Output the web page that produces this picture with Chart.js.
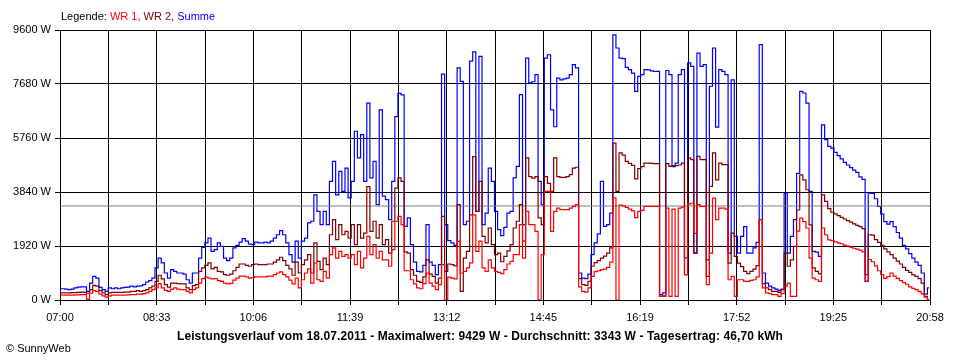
<!DOCTYPE html>
<html lang="de">
<head>
<meta charset="utf-8">
<title>Leistungsverlauf vom 18.07.2011</title>
<script src="https://cdn.jsdelivr.net/npm/chart.js@4.4.1/dist/chart.umd.min.js"></script>
<style>
  html, body { margin: 0; padding: 0; background: #fff; }
  .wrap { position: relative; width: 960px; height: 360px; font-family: "Liberation Sans", Arial, sans-serif; color: #000; }
  .wrap canvas { position: absolute; left: 0; top: 0; }
  .legend { position: absolute; left: 61px; top: 10px; font-size: 11px; line-height: 13px; white-space: nowrap; }
  .legend .wr1 { color: #ff0000; }
  .legend .wr2 { color: #800000; }
  .legend .sum { color: #0000ff; }
  .title { position: absolute; left: 0; top: 329px; width: 960px; text-align: center; font-size: 12px; line-height: 14px; font-weight: bold; letter-spacing: 0.1px; white-space: nowrap; }
  .copy { position: absolute; left: 6px; top: 342px; font-size: 11px; line-height: 13px; white-space: nowrap; }
</style>
</head>
<body>
<div class="wrap">
  <canvas id="chart" width="960" height="360"></canvas>
  <div class="legend">Legende: <span class="wr1">WR 1,</span> <span class="wr2">WR 2,</span> <span class="sum">Summe</span></div>
  <div class="title">Leistungsverlauf vom 18.07.2011 - Maximalwert: 9429 W - Durchschnitt: 3343 W - Tagesertrag: 46,70 kWh</div>
  <div class="copy">© SunnyWeb</div>
</div>
<script>
// Zeitachse: 07:00 bis 20:58 = 838 Minuten, Messwerte alle 3 Minuten
const spanMinutes = 838;
const sampleStep = 3;
const gridDivisions = 18;
const timeLabels = ['07:00', '08:33', '10:06', '11:39', '13:12', '14:45', '16:19', '17:52', '19:25', '20:58'];

const yMax = 9600;
const yStep = 1920;
const average = 3343;

// Summe (W)
const summe = [
  400, 400, 390, 370, 390, 430, 460, 470, 470, 310,
  600, 840, 780, 450, 370, 310, 430, 400, 430, 400,
  430, 450, 460, 490, 470, 490, 500, 550, 640, 690,
  780, 1140, 1490, 1320, 960, 780, 1080, 1020, 960, 960,
  920, 720, 600, 960, 960, 1490, 1870, 2030, 2200, 1730,
  1790, 2030, 1910, 1490, 1400, 1490, 1850, 1940, 2060, 2180,
  2090, 1990, 1970, 2060, 2030, 2030, 2060, 2030, 2090, 2200,
  2320, 2470, 2320, 2030, 1610, 1350, 2090, 1490, 2090, 2200,
  2740, 2800, 3740, 3150, 2680, 3150, 2680, 4220, 4930, 3740,
  4570, 3860, 4690, 3630, 4220, 6000, 5050, 5880, 4220, 7000,
  4340, 4930, 3390, 6760, 3690, 3570, 2860, 4220, 6520, 7350,
  7290, 2620, 2920, 1970, 1350, 1020, 1000, 1230, 2680, 1350,
  1230, 900, 1260, 8030, 2680, 2110, 2030, 1940, 8250, 7770,
  2680, 2800, 8490, 8820, 3150, 8660, 2680, 3090, 4690, 4220,
  3150, 2500, 2290, 2580, 3090, 3150, 4340, 4750, 7300, 2680,
  8600, 7720, 7760, 8010, 4220, 3390, 8600, 8720, 6760, 6160,
  7890, 7830, 7860, 7890, 8010, 8370, 8250, 960, 780, 760,
  920, 1610, 2030, 2350, 4220, 2620, 2680, 3090, 9429, 8960,
  8600, 8580, 8270, 8190, 8070, 7420, 7950, 8010, 8190, 8180,
  8150, 8130, 8130, 190, 250, 8160, 8010, 4740, 4870, 8010,
  8190, 1500, 8430, 8310, 1670, 8780, 8310, 8370, 1430, 7600,
  8960, 6150, 8190, 8130, 8010, 1670, 7830, 2260, 1670, 2260,
  2610, 1670, 1670, 1850, 2050, 9080, 960, 600, 490, 430,
  390, 340, 390, 3800, 1670, 2260, 2860, 4500, 7420, 7360,
  7000, 3860, 1730, 1700, 1550, 6230, 5700, 5460, 5400, 5250,
  5130, 5020, 4890, 4800, 4710, 4620, 4540, 4380, 4290, 660,
  3800, 3790, 3600, 3330, 3050, 2790, 2700, 2790, 2610, 2400,
  2200, 1940, 1820, 1650, 1490, 1350, 1230, 960, 210, 430
];

// WR 2 (W)
const wr2 = [
  250, 250, 250, 250, 260, 260, 270, 280, 270, 240,
  370, 520, 490, 330, 250, 190, 250, 270, 270, 270,
  270, 280, 280, 310, 310, 330, 310, 330, 370, 430,
  490, 660, 880, 750, 550, 460, 600, 600, 580, 570,
  570, 430, 370, 510, 550, 1020, 1140, 1230, 1320, 1110,
  1160, 1020, 1000, 900, 880, 920, 1040, 1160, 1280, 1280,
  1230, 1200, 1260, 1280, 1260, 1260, 1260, 1280, 1280, 1350,
  1430, 1520, 1400, 1230, 1110, 880, 1350, 960, 1260, 1430,
  1610, 960, 2030, 1370, 1080, 1490, 1260, 2320, 2860, 2150,
  2680, 2320, 2440, 2200, 2680, 1970, 2680, 2200, 2380, 4030,
  2440, 2800, 2200, 2680, 1970, 2150, 1670, 2800, 3980, 4340,
  4220, 1710, 1670, 1080, 880, 660, 630, 820, 1430, 920,
  840, 600, 780, 2970, 1020, 1280, 1260, 1210, 3390, 310,
  1490, 1730, 3030, 5100, 3150, 4220, 2260, 2030, 2560, 1970,
  1610, 1670, 1360, 1550, 1750, 1970, 2560, 2800, 3390, 2090,
  5050, 4390, 4330, 4390, 2920, 2680, 4390, 4150, 3860, 5050,
  4390, 4360, 4360, 4390, 4460, 4690, 4720, 760, 550, 520,
  660, 1200, 1330, 1400, 1490, 1560, 1670, 1850, 5580, 3860,
  5230, 5150, 4930, 4860, 4790, 4310, 4670, 4740, 4870, 4870,
  4860, 4850, 4850, 130, 150, 4850, 4750, 4780, 4780, 4800,
  4870, 900, 5050, 4990, 1670, 5110, 4990, 4990, 840, 4040,
  5230, 4270, 4870, 4810, 4810, 1310, 2380, 1550, 1310, 1190,
  1020, 940, 1020, 1100, 1220, 2860, 580, 430, 370, 310,
  310, 270, 370, 1670, 1200, 1430, 1910, 3200, 4450, 4270,
  3920, 2670, 1140, 1020, 930, 3740, 3510, 3250, 3120, 3060,
  3000, 2940, 2880, 2820, 2770, 2710, 2650, 2610, 2540, 900,
  2320, 2310, 2150, 2050, 1940, 1820, 1710, 1610, 1490, 1380,
  1280, 1160, 1050, 980, 890, 840, 760, 600, 130, 20
];

// WR 1 (W)
const wr1 = [
  170, 170, 170, 170, 170, 180, 180, 190, 190, 20,
  240, 330, 310, 210, 150, 100, 150, 170, 170, 170,
  170, 170, 180, 190, 190, 210, 210, 230, 250, 310,
  370, 430, 580, 430, 340, 310, 390, 430, 390, 370,
  370, 310, 250, 370, 430, 600, 760, 810, 780, 750,
  760, 690, 660, 600, 570, 590, 710, 780, 850, 850,
  820, 780, 800, 820, 820, 820, 820, 850, 850, 900,
  960, 1000, 900, 820, 710, 570, 780, 430, 720, 960,
  1110, 600, 1320, 720, 660, 1020, 780, 1610, 1850, 1490,
  1730, 1550, 1610, 1490, 1610, 1260, 1730, 1140, 1490, 2260,
  1610, 1970, 1490, 1730, 1430, 1430, 1200, 1790, 2800, 2970,
  2680, 1040, 1040, 720, 570, 430, 400, 580, 960, 600,
  490, 370, 550, 1260, 0, 810, 780, 750, 2090, 960,
  1020, 1140, 1320, 3030, 1730, 2090, 1140, 1020, 1430, 1140,
  1020, 980, 940, 1080, 1280, 1370, 1610, 1610, 2680, 1490,
  3150, 2680, 2680, 2440, 0, 1610, 3860, 3860, 2440, 3150,
  3270, 3210, 3210, 3210, 3270, 3330, 3390, 470, 310, 280,
  430, 840, 1010, 1040, 1080, 1100, 1160, 1350, 3630, 0,
  3370, 3350, 3290, 3230, 3170, 2930, 3150, 3190, 3330, 3330,
  3330, 3330, 3330, 130, 130, 3270, 130, 3230, 130, 3270,
  3300, 900, 3420, 3440, 2370, 3390, 3330, 3330, 550, 1670,
  3620, 2860, 3270, 3270, 3230, 720, 840, 130, 720, 720,
  660, 660, 700, 720, 820, 2860, 430, 250, 225, 190,
  190, 130, 225, 490, 600, 130, 130, 2450, 2910, 2790,
  2560, 1490, 780, 720, 660, 2560, 2320, 2140, 2110, 2070,
  2030, 2000, 1950, 1920, 1880, 1840, 1810, 1770, 1710, 660,
  1440, 1360, 1210, 1040, 900, 770, 830, 960, 850, 770,
  690, 620, 560, 470, 410, 370, 310, 220, 100, 10
];

const FONT = '"Liberation Sans", Arial, sans-serif';

function toPoints(values) {
  return values.map((v, i) => ({ x: i * sampleStep, y: v }));
}

function seriesDataset(label, values, color) {
  return {
    label,
    data: toPoints(values),
    borderColor: color,
    backgroundColor: color,
    borderWidth: 1.2,
    pointRadius: 0,
    stepped: 'middle',
    fill: false
  };
}

Chart.defaults.font.family = FONT;

// Reihenfolge: erster Datensatz liegt oben
new Chart(document.getElementById('chart'), {
  type: 'line',
  data: {
    datasets: [
      seriesDataset('WR 1', wr1, '#ff0000'),
      seriesDataset('WR 2', wr2, '#800000'),
      {
        label: 'Durchschnitt',
        data: [{ x: 0, y: average }, { x: spanMinutes, y: average }],
        borderColor: '#808080',
        borderWidth: 1,
        pointRadius: 0,
        fill: false
      },
      seriesDataset('Summe', summe, '#0000ff')
    ]
  },
  options: {
    responsive: false,
    animation: false,
    events: [],
    layout: { padding: { left: 0, top: 30, right: 30, bottom: 30 } },
    plugins: {
      legend: { display: false },
      tooltip: { enabled: false },
      title: { display: false }
    },
    scales: {
      x: {
        type: 'linear',
        min: 0,
        max: spanMinutes,
        afterBuildTicks: (scale) => {
          scale.ticks = Array.from({ length: gridDivisions + 1 }, (_, k) => ({ value: k * spanMinutes / gridDivisions }));
        },
        afterFit: (scale) => { scale.height = 30; },
        grid: { color: '#000', lineWidth: 1, tickLength: 5 },
        border: { color: '#000', width: 1 },
        ticks: {
          autoSkip: false,
          maxRotation: 0,
          padding: 6,
          color: '#000',
          font: { size: 11 },
          callback: (value, index) => (index % 2 === 0 ? timeLabels[index / 2] : '')
        }
      },
      y: {
        min: 0,
        max: yMax,
        afterFit: (scale) => { scale.width = 60; },
        grid: { color: '#000', lineWidth: 1, tickLength: 5 },
        border: { color: '#000', width: 1 },
        ticks: {
          stepSize: yStep,
          padding: 4,
          color: '#000',
          font: { size: 11 },
          callback: (value) => `${value} W`
        }
      }
    }
  }
});
</script>
</body>
</html>
